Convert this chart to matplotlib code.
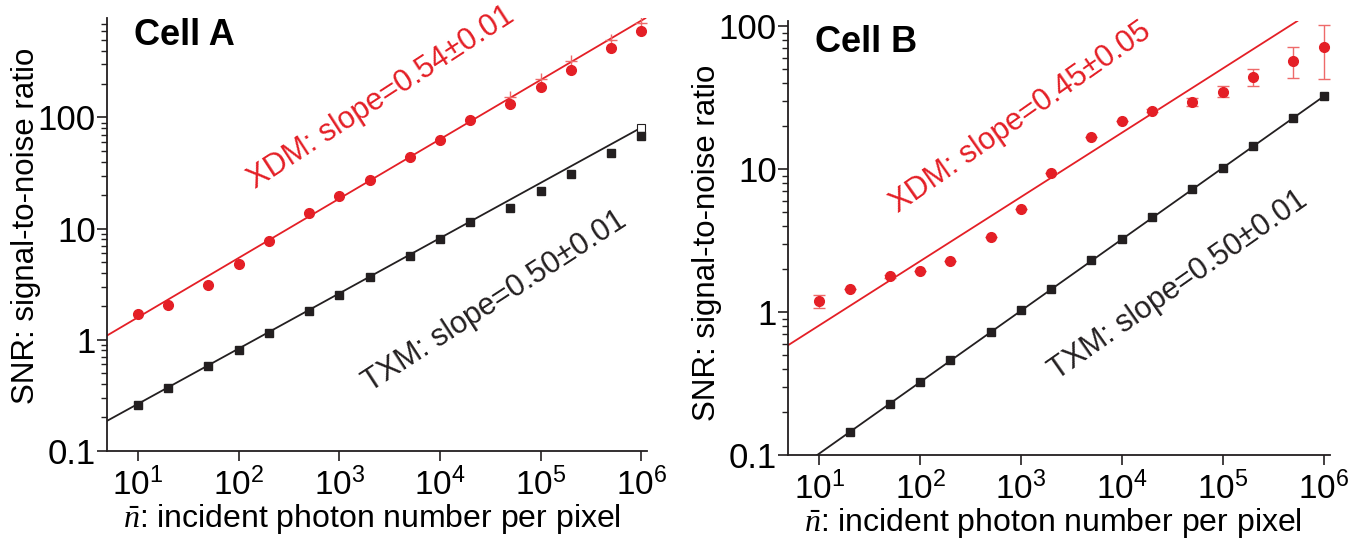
import matplotlib
matplotlib.use('Agg')
import matplotlib.pyplot as plt
import numpy as np

# incident photon number per pixel
n = [10, 20, 50, 100, 200, 500, 1e3, 2e3, 5e3, 1e4, 2e4, 5e4, 1e5, 2e5, 5e5, 1e6]

# Cell A
xdm_a = [1.71, 2.07, 3.13, 4.84, 7.69, 13.8, 19.6, 27.6, 44, 62.4, 94, 131, 187, 269, 421, 603]
txm_a = [0.26, 0.37, 0.575, 0.81, 1.16, 1.82, 2.55, 3.64, 5.7, 8.1, 11.4, 15.4, 21.7, 30.7, 47.9, 68]
xdm_a_plus_n = [5e4, 1e5, 2e5, 5e5, 1e6]
xdm_a_plus = [152, 220, 321, 497, 712]
txm_a_open_n = [1e6]
txm_a_open = [80.7]
fit_a_xdm_x = [4.9, 1.1e6]
fit_a_xdm_y = [1.09, 783]
fit_a_txm_x = [4.9, 1.0e6]
fit_a_txm_y = [0.186, 81]

# Cell B
xdm_b = [1.2, 1.45, 1.78, 1.95, 2.28, 3.37, 5.29, 9.35, 16.7, 21.9, 25.7, 29.5, 34.7, 44.4, 57.2, 71.5]
xdm_b_lo = [1.07, 1.45, 1.74, 1.95, 2.28, 3.37, 5.29, 9.35, 16.7, 21.9, 25.0, 27.5, 31.8, 38.3, 43.2, 42.6]
xdm_b_hi = [1.33, 1.45, 1.82, 1.95, 2.28, 3.37, 5.29, 9.35, 16.7, 21.9, 26.4, 31.5, 38.3, 49.9, 71.5, 102]
txm_b_n = [20, 50, 100, 200, 500, 1e3, 2e3, 5e3, 1e4, 2e4, 5e4, 1e5, 2e5, 5e5, 1e6]
txm_b = [0.146, 0.229, 0.327, 0.46, 0.73, 1.035, 1.46, 2.31, 3.23, 4.61, 7.26, 10.2, 14.5, 22.9, 32.3]
fit_b_xdm_x = [4.9, 5.5e5]
fit_b_xdm_y = [0.587, 109]
fit_b_txm_x = [9.5, 1.0e6]
fit_b_txm_y = [0.1, 32.3]

RED = '#e41f26'
LIGHT_RED = '#ee6a6a'
BLACK = '#231f20'

plt.rcParams['font.family'] = ['Liberation Sans', 'DejaVu Sans']
plt.rcParams['mathtext.fontset'] = 'custom'
plt.rcParams['mathtext.rm'] = 'Liberation Sans'
plt.rcParams['mathtext.it'] = 'Liberation Serif:italic'
plt.rcParams['mathtext.bf'] = 'Liberation Sans:bold'


def style_axes(ax, ylim, ylabel_y):
    ax.set_xscale('log')
    ax.set_yscale('log')
    ax.set_xlim(4.9, 1.15e6)
    ax.set_ylim(*ylim)
    for side in ['top', 'right']:
        ax.spines[side].set_visible(False)
    for side in ['left', 'bottom']:
        ax.spines[side].set_linewidth(1.3)
        ax.spines[side].set_color(BLACK)
    ax.set_yticks([0.1, 1, 10, 100])
    ax.set_yticklabels(['0.1', '1', '10', '100'])
    ax.set_xticks([1e1, 1e2, 1e3, 1e4, 1e5, 1e6])
    ax.tick_params(which='major', direction='out', length=7, width=1.2, color=BLACK)
    ax.tick_params(which='minor', direction='out', length=4, width=1.0, color=BLACK)
    ax.tick_params(axis='x', which='major', pad=5, labelsize=24)
    ax.tick_params(axis='y', which='major', pad=1, labelsize=25)
    ax.set_xlabel(r'$\bar{n}$: incident photon number per pixel', fontsize=23)
    ax.set_ylabel('SNR: signal-to-noise ratio', fontsize=22.5)
    ax.xaxis.set_label_coords(0.49, -0.118)
    ax.yaxis.set_label_coords(-0.122, ylabel_y)


fig = plt.figure(figsize=(13.61, 5.38), dpi=100)

# Cell A
ax1 = fig.add_axes([0.0786, 0.162, 0.397, 0.805])
ax1.plot(fit_a_xdm_x, fit_a_xdm_y, color=RED, lw=1.3, zorder=2)
ax1.plot(fit_a_txm_x, fit_a_txm_y, color=BLACK, lw=1.3, zorder=2)
ax1.plot(xdm_a_plus_n, xdm_a_plus, '+', color=LIGHT_RED, ms=9, mew=1.0, zorder=3)
ax1.plot(n, xdm_a, 'o', color=RED, ms=7, zorder=4)
ax1.plot(txm_a_open_n, txm_a_open, 's', mfc='white', mec=BLACK, ms=5.5, mew=0.8, zorder=3)
ax1.plot(n, txm_a, 's', color=BLACK, ms=6, zorder=4)
style_axes(ax1, (0.1, 790), 0.52)
ax1.text(0.05, 1.0, 'Cell A', transform=ax1.transAxes, fontsize=26,
         fontweight='bold', ha='left', va='top')
ax1.text(2600, 150, 'XDM: slope=0.54\u00b10.01', color=RED, fontsize=22,
         rotation=33, rotation_mode='anchor', ha='center', va='center')
ax1.text(3.5e4, 2.2, 'TXM: slope=0.50\u00b10.01', color=BLACK, fontsize=22,
         rotation=33, rotation_mode='anchor', ha='center', va='center')

# Cell B
ax2 = fig.add_axes([0.579, 0.154, 0.398, 0.807])
ax2.plot(fit_b_xdm_x, fit_b_xdm_y, color=RED, lw=1.3, zorder=2)
ax2.plot(fit_b_txm_x, fit_b_txm_y, color=BLACK, lw=1.3, zorder=2)
yerr_b = [np.array(xdm_b) - np.array(xdm_b_lo), np.array(xdm_b_hi) - np.array(xdm_b)]
ax2.errorbar(n, xdm_b, yerr=yerr_b, fmt='none', ecolor=LIGHT_RED, elinewidth=1.0,
             capsize=4, capthick=1.0, zorder=3)
ax2.plot(n, xdm_b, 'o', color=RED, ms=7, zorder=4)
ax2.plot(txm_b_n, txm_b, 's', color=BLACK, ms=5.5, zorder=4)
style_axes(ax2, (0.1, 109), 0.49)
ax2.text(0.05, 0.99, 'Cell B', transform=ax2.transAxes, fontsize=26,
         fontweight='bold', ha='left', va='top')
ax2.text(1000, 23, 'XDM: slope=0.45\u00b10.05', color=RED, fontsize=22,
         rotation=35, rotation_mode='anchor', ha='center', va='center')
ax2.text(3.6e4, 1.55, 'TXM: slope=0.50\u00b10.01', color=BLACK, fontsize=22,
         rotation=35, rotation_mode='anchor', ha='center', va='center')

fig.savefig('out.png', dpi=100)
